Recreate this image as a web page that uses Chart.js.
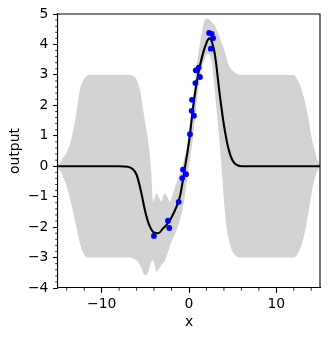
<!DOCTYPE html>
<html>
<head>
<meta charset="utf-8">
<script src="https://cdn.jsdelivr.net/npm/chart.js@4.4.0/dist/chart.umd.min.js"></script>
<style>
  html, body { margin: 0; padding: 0; background: #fff; }
  #wrap { width: 329px; height: 339px; }
</style>
</head>
<body>
<div id="wrap"><canvas id="gp-canvas"></canvas></div>
<script>
  // confidence band (upper / lower share the same x grid)
  var bandX = [-15, -14.8, -14.4, -14, -13.5, -12.9, -12.5, -12, -11.5, -11,
               -7, -6.5, -6, -5.6, -5.25, -5, -4.7, -4.5, -4.3, -4.1,
               -3.7, -3.4, -3.2, -2.8, -2.5, -2.2, -1.9, -1.5, -1, -0.6,
               -0.3, 0, 0.3, 0.6, 1, 1.5, 1.8, 2.1, 2.4, 2.7,
               3, 3.2, 3.5, 3.8, 4, 4.3, 4.6, 4.9, 5.5, 6,
               12, 12.4, 12.8, 13.2, 13.6, 14, 14.4, 14.8, 15];
  var bandUpper = [0.05, 0.1, 0.3, 0.45, 0.86, 1.74, 2.5, 2.88, 3.0, 3.0,
                   3.0, 2.98, 2.85, 2.5, 1.85, 1.4, 0.9, 0.4, -0.3, -1.16,
                   -0.89, -1.05, -1.15, -0.9, -1.0, -1.16, -0.95, -0.6, -0.2, 0.2,
                   0.6, 1.15, 1.85, 2.6, 3.55, 4.45, 4.8, 4.85, 4.8, 4.7,
                   4.62, 4.45, 4.25, 4.0, 3.85, 3.55, 3.3, 3.17, 3.04, 3.0,
                   3.0, 2.85, 2.6, 2.2, 1.7, 1.0, 0.5, 0.15, 0.05];
  var bandLower = [-0.05, -0.12, -0.35, -0.67, -1.22, -1.99, -2.53, -2.9, -3.0, -3.0,
                   -3.0, -3.02, -3.1, -3.25, -3.5, -3.58, -3.5, -3.3, -3.14, -3.1,
                   -3.47, -3.35, -3.25, -3.12, -2.9, -2.64, -2.4, -2.15, -1.72, -1.2,
                   -0.6, 0.0, 0.6, 1.3, 2.4, 3.2, 3.5, 3.7, 3.65, 3.25,
                   2.35, 1.7, 0.8, -0.35, -1.1, -2.0, -2.45, -2.75, -2.97, -3.0,
                   -3.0, -2.9, -2.65, -2.25, -1.65, -0.95, -0.4, -0.08, -0.03];

  // predicted mean
  var meanX = [-15, -8, -7, -6.5, -6, -5.5, -5, -4.5, -4, -3.5, -3, -2.5, -2, -1.5, -1,
               -0.5, 0, 0.5, 1, 1.5, 2, 2.3, 2.6, 3, 3.5, 4, 4.5, 5, 5.5, 6, 15];
  var meanY = [0, 0, -0.02, -0.08, -0.28, -0.82, -1.5, -1.97, -2.18, -2.2, -2.05, -1.9, -1.68, -1.38, -0.95,
               -0.1, 0.8, 2.0, 2.95, 3.6, 4.05, 4.2, 4.1, 3.6, 2.4, 1.35, 0.6, 0.18, 0.04, 0, 0];

  // observations
  var obsX = [-4.02, -2.41, -2.26, -1.18, -0.77, -0.69, -0.34, 0.11, 0.30, 0.34,
              0.57, 0.73, 0.77, 1.10, 1.26, 2.30, 2.49, 2.60, 2.76];
  var obsY = [-2.29, -1.79, -2.03, -1.17, -0.39, -0.11, -0.26, 1.05, 1.82, 2.18,
              1.66, 2.73, 3.15, 3.24, 2.93, 4.38, 3.86, 4.35, 4.21];

  var xTicks = [-10, 0, 10];
  var yTicks = [-4, -3, -2, -1, 0, 1, 2, 3, 4, 5];

  function toPoints(xs, ys) {
    return xs.map(function(x, i) { return {x: x, y: ys[i]}; });
  }
  function fmt(v) {
    return String(v).replace('-', '\u2212');
  }

  // minor ticks + top/right spines, drawn through the chart's scales
  var frameTicks = {
    id: 'frameTicks',
    afterDraw: function(chart) {
      var ctx = chart.ctx, a = chart.chartArea;
      var xs = chart.scales.x, ys = chart.scales.y;
      ctx.save();
      ctx.strokeStyle = '#000';
      ctx.lineWidth = 0.8;
      ctx.beginPath();
      for (var i = -7; i <= 7; i++) {
        var v = i * 2;
        if (v % 10 === 0) continue;
        var px = xs.getPixelForValue(v);
        ctx.moveTo(px, a.bottom);
        ctx.lineTo(px, a.bottom + 2.8);
      }
      for (var j = -20; j <= 25; j++) {
        if (j % 5 === 0) continue;
        var py = ys.getPixelForValue(j / 5);
        ctx.moveTo(a.left, py);
        ctx.lineTo(a.left - 2.8, py);
      }
      ctx.stroke();
      ctx.lineWidth = 1.1;
      ctx.beginPath();
      ctx.moveTo(a.left, a.top);
      ctx.lineTo(a.right, a.top);
      ctx.lineTo(a.right, a.bottom);
      ctx.stroke();
      ctx.restore();
    }
  };

  Chart.defaults.color = '#000';
  Chart.defaults.font.family = 'DejaVu Sans';
  Chart.defaults.font.size = 13.9;

  var ctx = document.getElementById('gp-canvas').getContext('2d');
  var chartObj = new Chart(ctx, {
    type: 'line',
    data: {
      datasets: [
        {
          label: 'observations',
          data: toPoints(obsX, obsY),
          showLine: false,
          pointRadius: 2.9,
          pointBackgroundColor: '#0000ff',
          pointBorderWidth: 0
        },
        {
          label: 'mean',
          data: toPoints(meanX, meanY),
          borderColor: '#000',
          borderWidth: 2.1,
          pointRadius: 0,
          cubicInterpolationMode: 'monotone',
          fill: false
        },
        {
          label: 'upper',
          data: toPoints(bandX, bandUpper),
          borderWidth: 0,
          borderColor: 'rgba(0,0,0,0)',
          pointRadius: 0,
          cubicInterpolationMode: 'monotone',
          fill: false
        },
        {
          label: 'lower',
          data: toPoints(bandX, bandLower),
          borderWidth: 0,
          borderColor: 'rgba(0,0,0,0)',
          backgroundColor: '#d3d3d3',
          pointRadius: 0,
          cubicInterpolationMode: 'monotone',
          fill: '-1'
        }
      ]
    },
    options: {
      responsive: true,
      maintainAspectRatio: false,
      animation: false,
      layout: { padding: { left: 0, right: 9, top: 14, bottom: 0 } },
      plugins: { legend: { display: false }, tooltip: { enabled: false } },
      scales: {
        x: {
          type: 'linear',
          min: -15,
          max: 15,
          afterBuildTicks: function(scale) {
            scale.ticks = xTicks.map(function(v) { return {value: v}; });
          },
          afterFit: function(scale) { scale.height = 51; },
          ticks: { padding: 3, maxRotation: 0, callback: fmt },
          grid: { drawOnChartArea: false, tickLength: 4.9, tickWidth: 1.1, tickColor: '#000' },
          border: { display: true, color: '#000', width: 1.1 },
          title: { display: true, text: 'x', padding: { top: 0, bottom: 8.4 } }
        },
        y: {
          min: -4,
          max: 5,
          afterBuildTicks: function(scale) {
            scale.ticks = yTicks.map(function(v) { return {value: v}; });
          },
          afterFit: function(scale) { scale.width = 58; },
          ticks: { padding: 4.7, callback: fmt },
          grid: { drawOnChartArea: false, tickLength: 4.9, tickWidth: 1.1, tickColor: '#000' },
          border: { display: true, color: '#000', width: 1.1 },
          title: { display: true, text: 'output', padding: { top: 7, bottom: 0 } }
        }
      }
    },
    plugins: [frameTicks]
  });
</script>
</body>
</html>
